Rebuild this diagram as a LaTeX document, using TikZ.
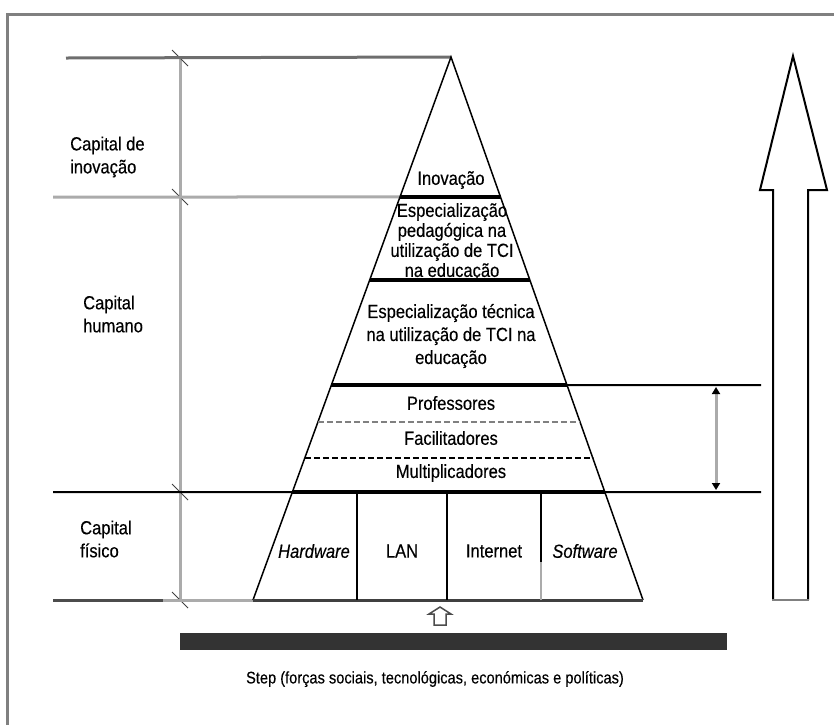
\documentclass[tikz,border=0pt]{standalone}
\usepackage{fontspec}
\setmainfont{Liberation Sans}[FakeStretch=0.87, FakeBold=0.3]
\usetikzlibrary{arrows.meta,calc}
\definecolor{framegray}{HTML}{808080}
\definecolor{guidegray}{HTML}{ABABAB}
\definecolor{topgray}{HTML}{6E6E6E}
\definecolor{bargray}{HTML}{333333}
\begin{document}
\begin{tikzpicture}[x=1pt,y=-1pt,
  txt/.style={font=\fontsize{19}{20}\selectfont, inner sep=0pt, align=center},
  widetxt/.style={txt, font=\fontsize{19}{23}\selectfont},
  steptxt/.style={txt, font=\fontsize{16.8}{18}\selectfont},
  sidelbl/.style={inner sep=0pt, font=\fontsize{19}{23}\selectfont, align=left, anchor=west},
  sepline/.style={line width=3.5pt, black},
  thinline/.style={line width=2pt, black},
  guide/.style={line width=3pt, guidegray},
  tickmark/.style={line width=1pt, black!75},
  pyredge/.style={line width=1.5pt, black, line join=miter},
  cellline/.style={line width=2pt, black}]
\useasboundingbox (0,0) rectangle (834,724);

% outer frame (only top and left edges fall inside the page)
\draw[framegray, line width=3pt] (845,14) -- (7,14) -- (7,735);

% pyramid corners
\coordinate (apex) at (451,57);
\coordinate (bl) at (253,600);
\coordinate (br) at (643,600);
% points on the two sides at each layer boundary
\foreach \n/\t in {1/0.2578, 2/0.4107, 3/0.6041, 4/0.6722, 5/0.7385, 6/0.8011} {
  \coordinate (L\n) at ($(apex)!\t!(bl)$);
  \coordinate (R\n) at ($(apex)!\t!(br)$);
}

% left scale
\coordinate (s0) at (180,58);
\coordinate (s1) at (180,197);
\coordinate (s2) at (180,492);
\coordinate (s3) at (180,600);
\draw[guide] (s0) -- (s3);
\foreach \p in {s0,s1,s2,s3}
  \draw[tickmark] ($(\p)+(-8,-8)$) -- ($(\p)+(8,8)$);

% horizontal level lines
\coordinate (h0) at (66,58);
\coordinate (h1) at (53,197);
\coordinate (h2) at (53,492);
\coordinate (h3a) at (53,600);
\coordinate (h3b) at (163,600);
\coordinate (e1) at (761,385);
\coordinate (e2) at (761,492);
\draw[topgray, line width=3pt] (h0) -- (apex);
\draw[guide] (h1) -- (L1);
\draw[thinline] (h2) -- (L6);
\draw[thinline] (R6) -- (e2);
\draw[thinline] (R3) -- (e1);
\draw[black!70, line width=3pt] (h3a) -- (h3b);
\draw[guide] (h3b) -- (bl);

% pyramid
\draw[pyredge] (bl) -- (apex) -- (br);
\draw[black!75, line width=3pt] (bl) -- (br);
\draw[sepline] (L1) -- (R1);
\draw[sepline] (L2) -- (R2);
\draw[sepline] (L3) -- (R3);
\draw[sepline] (L6) -- (R6);
\draw[gray, line width=1.5pt, dash pattern=on 6pt off 3pt] (L4) -- (R4);
\draw[black, line width=1.5pt, dash pattern=on 6pt off 3pt] (L5) -- (R5);

% cells of the physical layer
\coordinate (v1t) at (357,492); \coordinate (v1b) at (357,600);
\coordinate (v2t) at (447,492); \coordinate (v2b) at (447,600);
\coordinate (v3t) at (541,492); \coordinate (v3m) at (541,562); \coordinate (v3b) at (541,600);
\draw[cellline] (v1t) -- (v1b);
\draw[cellline] (v2t) -- (v2b);
\draw[cellline] (v3t) -- (v3m);
\draw[guidegray, line width=2pt] (v3m) -- (v3b);

% pyramid texts
\node[txt] (inov) at (451,180) {Inovação};
\node[txt] (pedag) at (452,242) {Especialização\\pedagógica na\\utilização de TCI\\na educação};
\node[widetxt] (tecn) at (451,336) {Especialização técnica\\na utilização de TCI na\\educação};
\node[txt] (prof) at (451,403) {Professores};
\node[txt] (facil) at (451,438) {Facilitadores};
\node[txt] (mult) at (451,473) {Multiplicadores};
\node[txt] (hw) at (314,551) {\itshape Hardware};
\node[txt] (lan) at (402,551) {LAN};
\node[txt] (inet) at (494,551) {Internet};
\node[txt] (sw) at (585,551) {\itshape Software};

% side labels
\node[sidelbl] (capinov) at (70,157) {Capital de\\inovação};
\node[sidelbl] (caphum) at (83,314) {Capital\\humano};
\node[sidelbl] (capfis) at (80,539) {Capital\\físico};

% span marker between the professional levels
\coordinate (d1) at (716,387);
\coordinate (d2) at (716,490);
\draw[guidegray, line width=3pt,
  {Triangle[length=7pt,width=8pt,black]}-{Triangle[length=7pt,width=8pt,black]}] (d1) -- (d2);

% large hollow arrow
\draw[black, line width=2pt, line join=miter]
  (773,600) -- (773,190) -- (760,190) -- (793,56) -- (827,190) -- (808,190) -- (808,600);
\draw[framegray, line width=2.5pt] (772,600) -- (809,600);

% base bar and forces
\node[fill=bargray, minimum width=547pt, minimum height=17pt, inner sep=0pt] (bar) at (453.5,641.5) {};
\draw[black!70, line width=1.5pt, line join=miter]
  (434,625) -- (434,614) -- (429,614) -- (440,607) -- (451,614) -- (446,614) -- (446,625) -- cycle;
\node[steptxt] (step) at (435,679) {Step (forças sociais, tecnológicas, económicas e políticas)};
\end{tikzpicture}
\end{document}
